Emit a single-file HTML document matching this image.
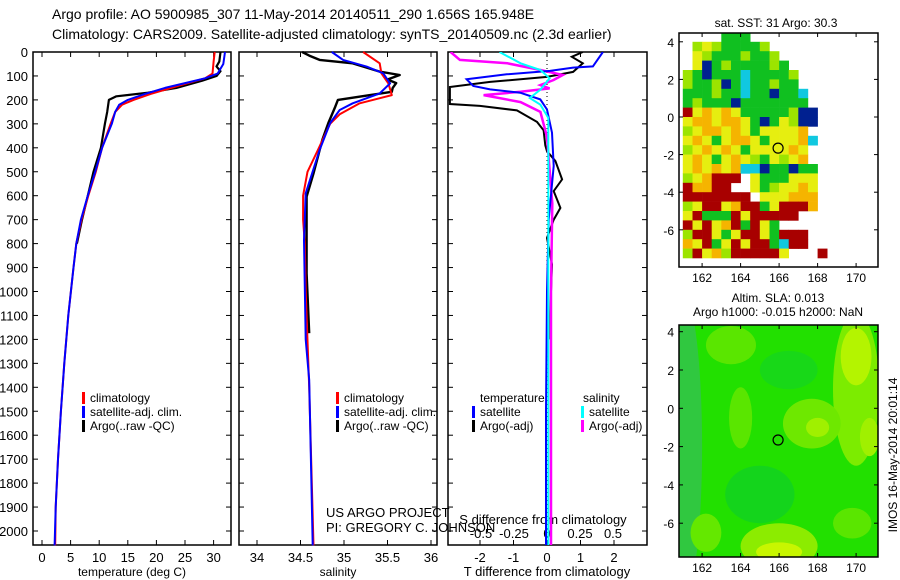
<!DOCTYPE html>
<html><head><meta charset="utf-8">
<style>
html,body{margin:0;padding:0;background:#fff;}
svg{display:block;font-family:"Liberation Sans",sans-serif;}
</style></head>
<body>
<svg id="fig" width="900" height="580" viewBox="0 0 900 580">
<text x="52" y="19" font-size="14">Argo profile: AO 5900985_307 11-May-2014 20140511_290 1.656S 165.948E</text>
<text x="52" y="39" font-size="14">Climatology: CARS2009. Satellite-adjusted climatology: synTS_20140509.nc (2.3d earlier)</text>
<text x="776" y="27" font-size="12" text-anchor="middle">sat. SST: 31 Argo: 30.3</text>
<text x="778" y="302" font-size="12" text-anchor="middle">Altim. SLA: 0.013</text>
<text x="778" y="316" font-size="12" text-anchor="middle">Argo h1000: -0.015 h2000: NaN</text>
<text transform="translate(897,455) rotate(-90)" font-size="12" text-anchor="middle">IMOS 16-May-2014 20:01:14</text>
<g id="g"></g>
</svg>
<script>
// ---- data ----
const depthTicks=[0,100,200,300,400,500,600,700,800,900,1000,1100,1200,1300,1400,1500,1600,1700,1800,1900,2000];
const tempTicks=[0,5,10,15,20,25,30];
const salTicks=[34,34.5,35,35.5,36];
const dtTicks=[-2,-1,0,1,2];
const dsTickLabels=["-0.5","-0.25","0","0.25","0.5"];
const dsTicks=[-0.5,-0.25,0,0.25,0.5];
const tClimDepth=[0,40,90,110,140,175,200,220,250,300,400,500,600,700,800,900,1100,1300,1500,1700,1900,2060];
const tClimVal=[30.2,30.0,29.8,28.5,24,19,16,14,12.8,12.0,10.5,9.4,8.1,6.9,6.0,5.5,4.6,3.9,3.3,2.8,2.4,2.3];
const tSatDepth=[0,50,90,110,130,150,175,200,220,250,300,400,500,600,700,800,900,1100,1300,1500,1700,1900,2060];
const tSatVal=[32.0,31.7,30.7,28.5,25,21.5,18,15,13.5,12.8,12.2,10.5,9.3,8.0,6.8,6.0,5.5,4.6,3.9,3.3,2.8,2.4,2.2];
const tArgoDepth=[0,40,60,80,100,120,150,170,185,200,250,300,400,500,600,700,800];
const tArgoVal=[31.2,31.0,30.5,31.2,30.5,28,23.5,18.5,13,11.7,11.4,11.0,10.3,9.0,8.0,7.0,6.1];
const sClimDepth=[0,47,89,131,180,214,260,300,409,500,600,700,800,1000,1400,1800,2060];
const sClimVal=[35.22,35.41,35.43,35.51,35.55,35.18,34.95,34.84,34.70,34.58,34.53,34.53,34.55,34.56,34.60,34.63,34.65];
const sSatDepth=[0,33,61,89,131,173,214,242,297,409,590,785,1200,1370,1700,2060];
const sSatVal=[34.86,34.99,35.26,35.45,35.53,35.41,35.1,34.95,34.84,34.72,34.56,34.54,34.56,34.60,34.62,34.64];
const sArgoDepth=[0,15,33,47,82,96,115,130,150,166,180,200,228,297,367,507,604,924,1174];
const sArgoVal=[34.52,34.6,34.72,35.1,35.41,35.64,35.5,35.6,35.56,35.55,35.3,34.93,34.9,34.82,34.75,34.65,34.57,34.57,34.6];
const dtSatDepth=[0,60,65,79,93,114,142,156,170,198,240,337,476,700,1000,1500,2060];
const dtSatVal=[1.67,1.37,0.78,0.09,-1.2,-2.4,-2.2,-1.7,-0.8,-0.2,0,0.15,0.2,0.05,0,-0.03,-0.03];
const dtArgoDepth=[0,20,47,83,104,125,146,175,217,225,244,292,327,390,414,455,532,581,651,700,776,887,1000,1100,1200];
const dtArgoVal=[1.07,0.74,1.07,0.78,0,-1.7,-2.9,-2.9,-2.9,-2.0,-0.9,-0.3,-0.1,-0.05,0,0.25,0.45,0.2,0.4,0.2,0,0.15,0.12,0.1,0.1];
const dsSatDepth=[0,47,75,110,157,192,220,275,500,1000,2060];
const dsSatVal=[-0.36,-0.2,-0.05,0.02,-0.05,-0.13,-0.05,0.01,0.01,0.01,0.01];
const dsArgoDepth=[0,33,47,75,96,117,138,152,166,180,209,250,355,633,1000,1500,2060];
const dsArgoVal=[-0.73,-0.66,-0.3,-0.05,0.12,0.05,-0.05,0.02,-0.2,-0.48,-0.2,-0.05,0,0.04,0.03,0.03,0.03];
// SST mosaic rows (lat 4.5 -> -7.5 by 0.5), cols lon 161 -> 168.5 by 0.5
const sstRows=[
"....GGG........",
".gYgGGGGg......",
".YgGGGgGGg.....",
".YBGgGGGGgG....",
"gGBGGGCGGGGg...",
"gGGgBGCGGgGG...",
"GGGgGGCGGBGGC..",
"GgGGGBGGGGGGG..",
"RYOYOYGGGGGgBB.",
"YOOYOOYGBGYgBB.",
"gYOOYOYGYYYYO..",
"YOYGYOOYGYYYOC.",
"gYOYOYGYYYYOY..",
"YOYGYOYgGYgYO..",
"YOYOYOCCBGGBGG.",
"gYORRR.YGGGYYY.",
"ROORR..YGgYYOY.",
"RRRRRRR.YYYOOO.",
"gYRRYORRGYRRRO.",
"YRGGGRYRRRRR...",
"RYRYORGRYG.....",
"gRRYGYRRYGRRR..",
"OYRGYRYRRGCRR..",
"gRYOgRRRRRY...R"];
const sstColors={R:"#a80000",O:"#f5b400",Y:"#e6ee10",g:"#9ce400",G:"#10c020",B:"#002090",C:"#10c8e0"};
const argoLon=165.948, argoLat=-1.656;

const NS="http://www.w3.org/2000/svg";
const G=document.getElementById('g');
function el(t,a,p){const e=document.createElementNS(NS,t);for(const k in a)e.setAttribute(k,a[k]);(p||G).appendChild(e);return e;}
const yTop=52, pxPerM=0.2395;
const yD=d=>yTop+d*pxPerM;
const xT=t=>42+t*5.72;
const xS=s=>257+(s-34)*87;
const xDT=v=>547+v*33.5;
const xDS=v=>547+v*132;

function panel(name,x0,x1,y0,y1){
  const r=el('rect',{x:x0,y:y0,width:x1-x0,height:y1-y0,fill:'none',stroke:'#000','stroke-width':1.5});
  
  
}
function line(name,ds,vs,xf,color,w){
  const pts=ds.map((d,i)=>xf(vs[i]).toFixed(1)+','+yD(d).toFixed(1)).join(' ');
  const p=el('polyline',{points:pts,fill:'none',stroke:color,'stroke-width':w||2,'stroke-linejoin':'round'});
  
  
}
function txt(name,x,y,s,size,anchor){
  const t=el('text',{x:x,y:y,'font-size':size||12,'text-anchor':anchor||'start'});
  t.textContent=s;
  
  
  return t;
}
const PB=545;
const defs=el('defs',{});
const cp=el('clipPath',{id:'c3'},defs);el('rect',{x:448,y:52,width:199,height:493},cp);
panel('temperature-axes',33,231,52,PB);
panel('salinity-axes',239,437,52,PB);
panel('difference-axes',448,647,52,PB);
depthTicks.forEach(d=>{
  const y=yD(d);
  [[33,38],[226,231],[239,244],[432,437],[448,453],[642,647]].forEach(s=>el('line',{x1:s[0],x2:s[1],y1:y,y2:y,stroke:'#000'}));
  txt('depth-tick-label',28,y+5,String(d),13,'end');
});
tempTicks.forEach(t=>{const x=xT(t);el('line',{x1:x,x2:x,y1:52,y2:57,stroke:'#000'});el('line',{x1:x,x2:x,y1:PB-5,y2:PB,stroke:'#000'});txt('temp-tick-label',x,562,String(t),13,'middle');});
salTicks.forEach(s=>{const x=xS(s);el('line',{x1:x,x2:x,y1:52,y2:57,stroke:'#000'});el('line',{x1:x,x2:x,y1:PB-5,y2:PB,stroke:'#000'});txt('salinity-tick-label',x,562,String(s),13,'middle');});
dtTicks.forEach(v=>{const x=xDT(v);el('line',{x1:x,x2:x,y1:52,y2:57,stroke:'#000'});el('line',{x1:x,x2:x,y1:PB-5,y2:PB,stroke:'#000'});txt('dt-tick-label',x,562,String(v),13,'middle');});
dsTicks.forEach((v,i)=>txt('ds-tick-label',xDS(v),538,dsTickLabels[i],13,'middle'));
txt('temperature-x-title',132,576,'temperature (deg C)',12,'middle');
txt('salinity-x-title',338,576,'salinity',12,'middle');
txt('dt-x-title',547,576,'T difference from climatology',13,'middle');
txt('ds-x-title',543,524,'S difference from climatology',13,'middle');
txt('project-label',326,517,'US ARGO PROJECT',13);
txt('pi-label',326,532,'PI: GREGORY C. JOHNSON',13);
el('line',{x1:xDT(0),x2:xDT(0),y1:52,y2:PB,stroke:'#000','stroke-dasharray':'1,3'});
line('temp-argo',tArgoDepth,tArgoVal,xT,'#000',2.2);
line('temp-climatology',tClimDepth,tClimVal,xT,'#f00',2);
line('temp-satellite',tSatDepth,tSatVal,xT,'#00f',2);
line('sal-argo',sArgoDepth,sArgoVal,xS,'#000',2.4);
line('sal-climatology',sClimDepth,sClimVal,xS,'#f00',2);
line('sal-satellite',sSatDepth,sSatVal,xS,'#00f',2);
const g3=el('g',{'clip-path':'url(#c3)'});
function line3(name,ds,vs,xf,color,w){
  const pts=ds.map((d,i)=>xf(vs[i]).toFixed(1)+','+yD(d).toFixed(1)).join(' ');
  const p=el('polyline',{points:pts,fill:'none',stroke:color,'stroke-width':w||2},g3);
  
  
}
line3('dt-argo',dtArgoDepth,dtArgoVal,xDT,'#000',2);
line3('ds-argo',dsArgoDepth,dsArgoVal,xDS,'#f0f',2.5);
line3('dt-satellite',dtSatDepth,dtSatVal,xDT,'#00f',2);
line3('ds-satellite',dsSatDepth,dsSatVal,xDS,'#0ff',2);
function leg(name,x,y,color,label){
  const r=el('rect',{x:x,y:y-10,width:3,height:12,fill:color});
  
  
  txt(name,x+8,y,label,12);
}
[[82],[336]].forEach(a=>{const x=a[0];
  leg('legend-climatology',x,402,'#f00','climatology');
  leg('legend-satellite-adj',x,416,'#00f','satellite-adj. clim.');
  leg('legend-argo',x,430,'#000','Argo(..raw -QC)');});
txt('legend-temperature-head',480,402,'temperature',12);
txt('legend-salinity-head',583,402,'salinity',12);
leg('legend-t-satellite',472,416,'#00f','satellite');
leg('legend-t-argo',472,430,'#000','Argo(-adj)');
leg('legend-s-satellite',581,416,'#0ff','satellite');
leg('legend-s-argo',581,430,'#f0f','Argo(-adj)');

function mapAxes(name,y0,y1,lat0y,pxLat){
  const lonX=l=>679+(l-160.8)*19.25;
  const latY=l=>lat0y-l*pxLat;
  return {lonX,latY,y0,y1,name};
}
const m1=mapAxes('sst-map',33,267,117,18.8);
const m2=mapAxes('sla-map',325,557,408.3,19.15);
sstRows.forEach((row,ri)=>{
  const latTop=4.5-ri*0.5;
  for(let ci=0;ci<row.length;ci++){
    const c=row[ci]; if(c==='.')continue;
    const lon=161+ci*0.5;
    const x=m1.lonX(lon), y=m1.latY(latTop);
    const r=el('rect',{x:x.toFixed(1),y:Math.max(33,y).toFixed(1),width:(0.5*19.25+0.3).toFixed(1),height:(Math.min(267,m1.latY(latTop-0.5))-Math.max(33,y)+0.3).toFixed(1),fill:sstColors[c]});
    
    
  }
});
const cp2=el('clipPath',{id:'c2'},defs);el('rect',{x:679,y:325,width:199,height:232},cp2);
const g2=el('g',{'clip-path':'url(#c2)'});
el('rect',{x:679,y:325,width:199,height:232,fill:'#22e000'},g2);
const blobs=[[161,-2,1,8,'#30c840'],[165,-4.5,1.8,1.5,'#14d41c'],[163.5,3.3,1.3,1,'#5ae600'],[166.5,2,1.5,1,'#18d818'],
[170,1,1.2,4,'#7cec00'],[170,2.7,0.8,1.5,'#b4f400'],[170.7,-1.5,0.5,1,'#a0f000'],[167.7,-0.8,1.5,1.3,'#6ee800'],[168,-1,0.6,0.5,'#a0f000'],
[166,-7.2,2,1.2,'#8cec00'],[166,-7.5,1.2,0.5,'#c8f600'],[162.2,-6.5,0.8,1,'#64e800'],[164,-0.5,0.6,1.6,'#5ae600'],[169.8,-6,1,0.8,'#5ae600']];
blobs.forEach(b=>{const e=el('ellipse',{cx:m2.lonX(b[0]),cy:m2.latY(b[1]),rx:b[2]*19.25,ry:b[3]*19.15,fill:b[4]},g2);});
[m1,m2].forEach(m=>{
  const f=el('rect',{x:679,y:m.y0,width:199,height:m.y1-m.y0,fill:'none',stroke:'#000','stroke-width':1.5});
  
  
  [162,164,166,168,170].forEach(l=>{const x=m.lonX(l);el('line',{x1:x,x2:x,y1:m.y0,y2:m.y0+4,stroke:'#000'});el('line',{x1:x,x2:x,y1:m.y1-4,y2:m.y1,stroke:'#000'});txt(m.name+'-lon-label',x,m.y1+15,String(l),12,'middle');});
  [4,2,0,-2,-4,-6].forEach(l=>{const y=m.latY(l);el('line',{x1:679,x2:683,y1:y,y2:y,stroke:'#000'});el('line',{x1:874,x2:878,y1:y,y2:y,stroke:'#000'});txt(m.name+'-lat-label',674,y+5,String(l),12,'end');});
  const c=el('circle',{cx:m.lonX(argoLon),cy:m.latY(argoLat),r:5,fill:'none',stroke:'#000','stroke-width':1.2});
  
  
});
</script>
</body></html>
